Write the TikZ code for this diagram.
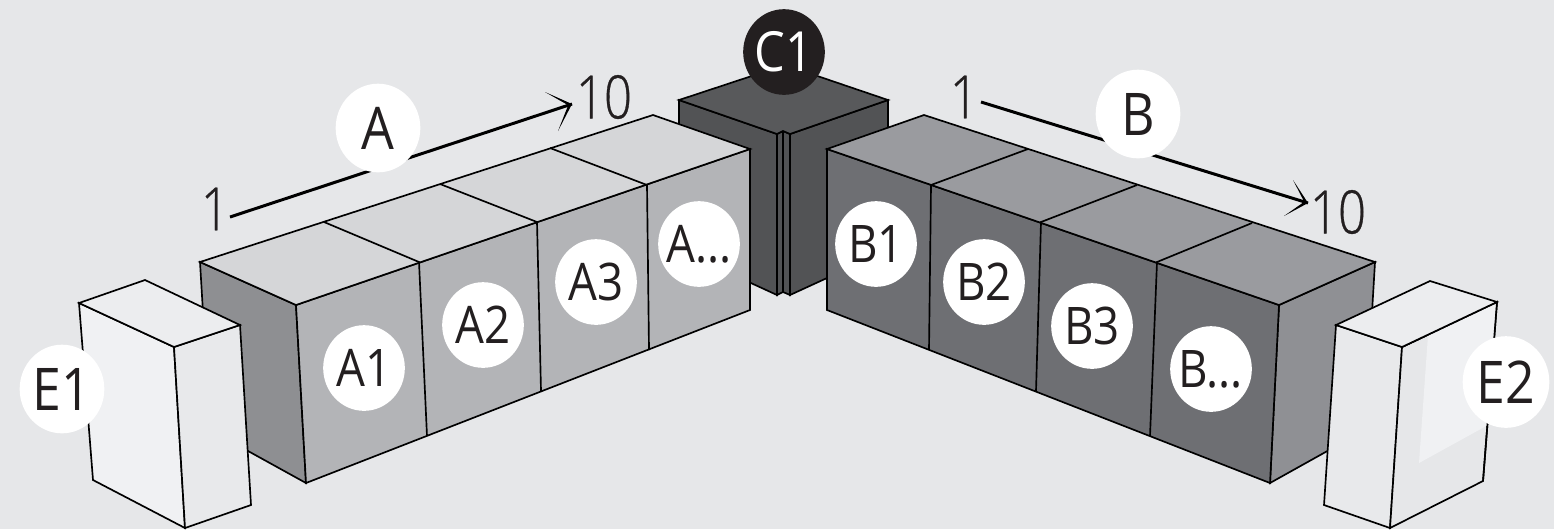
\documentclass[tikz,border=0pt]{standalone}
\usepackage{fontspec}
\setmainfont[FakeStretch=0.88]{Open Sans}
\newfontfamily\thinfont[FakeStretch=0.82,FakeBold=0.5]{Open Sans Light}
\usetikzlibrary{shapes.geometric}
\definecolor{bgc}{HTML}{E6E7E9}
\definecolor{inkc}{HTML}{231F20}
\definecolor{atop}{HTML}{D5D6D8}
\definecolor{afront}{HTML}{B3B4B7}
\definecolor{aside}{HTML}{8E8F92}
\definecolor{btop}{HTML}{9A9B9F}
\definecolor{bfront}{HTML}{6E6F73}
\definecolor{bside}{HTML}{8F9094}
\definecolor{ctop}{HTML}{58595B}
\definecolor{cface}{HTML}{525355}
\definecolor{etop}{HTML}{ECEDEF}
\definecolor{elight}{HTML}{F0F1F3}
\definecolor{emid}{HTML}{E8E9EB}
\newlength{\unitx}\setlength{\unitx}{0.5669pt}
\tikzset{
  face/.style={draw=black,line width=0.95pt,line join=miter},
  seam/.style={draw=black,line width=0.95pt},
  tag/.style={ellipse,fill=white,inner sep=-25pt,minimum width=82\unitx,minimum height=86\unitx,text=inkc,font=\fontsize{29.5}{30}\selectfont},
  bigtag/.style={tag,minimum width=85\unitx,minimum height=89\unitx,font=\fontsize{33.5}{34}\selectfont},
  darktag/.style={tag,fill=inkc,text=white,font=\fontsize{31.5}{32}\selectfont},
  endnum/.style={inner sep=0pt,text=inkc,font=\thinfont\fontsize{34}{36}\selectfont},
  arrowline/.style={draw=black,line width=1.7pt},
  barb/.style={fill=black,draw=none}
}
\begin{document}
\begin{tikzpicture}[x=0.02cm,y=-0.02cm]
\fill[bgc] (0,0) rectangle (1554,529);
\useasboundingbox (0,0) rectangle (1554,529);
% C block
\filldraw[face,fill=cface] (679,100) -- (777,134) -- (777,295) -- (679,250) -- cycle;
\filldraw[face,fill=cface] (888,100) -- (790,134) -- (790,295) -- (888,250) -- cycle;
\filldraw[face,fill=cface] (777,134) -- (783,131) -- (790,134) -- (790,295) -- (783,292) -- (777,295) -- cycle;
\draw[seam] (783,131) -- (783,292);
\filldraw[face,fill=ctop] (679,100) -- (785,65) -- (888,100) -- (790,134) -- (783,131) -- (777,134) -- cycle;
% A block
\filldraw[face,fill=aside] (200,262) -- (296,305) -- (306,483) -- (210,430) -- cycle;
\filldraw[face,fill=afront] (296,305) -- (750,149) -- (750,310) -- (306,483) -- cycle;
\filldraw[face,fill=atop] (200,262) -- (653,115) -- (750,149) -- (296,305) -- cycle;
\draw[seam] (324,222) -- (419,262) -- (427,436);
\draw[seam] (440,184) -- (537,222) -- (541,391);
\draw[seam] (550,148) -- (647,185) -- (649,350);
% B block
\filldraw[face,fill=bside] (1375,262) -- (1279,305) -- (1270,483) -- (1365,430) -- cycle;
\filldraw[face,fill=bfront] (827,149) -- (1279,305) -- (1270,483) -- (827,310) -- cycle;
\filldraw[face,fill=btop] (827,149) -- (924,115) -- (1375,262) -- (1279,305) -- cycle;
\draw[seam] (1028,149) -- (931,185) -- (929,350);
\draw[seam] (1137,185) -- (1041,222) -- (1036,391);
\draw[seam] (1252,223) -- (1157,262) -- (1150,436);
% E1
\filldraw[face,fill=elight] (79,303) -- (174,347) -- (185,528) -- (93,480) -- cycle;
\filldraw[face,fill=emid] (174,347) -- (240,325) -- (251,505) -- (185,528) -- cycle;
\filldraw[face,fill=etop] (79,303) -- (145,280) -- (240,325) -- (174,347) -- cycle;
% E2
\filldraw[face,fill=emid!95!bgc] (1336,325) -- (1402,347) -- (1390,528) -- (1324,505) -- cycle;
\filldraw[face,fill=bgc] (1402,347) -- (1497,302) -- (1483,481) -- (1390,528) -- cycle;
\fill[elight] (1428,335) -- (1496,303) -- (1488,425) -- (1419,463) -- cycle;
\draw[seam] (1402,347) -- (1497,302) -- (1483,481);
\filldraw[face,fill=etop] (1336,325) -- (1430,281) -- (1497,302) -- (1402,347) -- cycle;
% arrows
\coordinate (as) at (230,217);
\coordinate (ae) at (572,104);
\coordinate (bs) at (981,102);
\coordinate (be) at (1308,203);
\draw[arrowline] (as) -- (ae);
\fill[barb] (545,92) -- (ae) -- (558,131) -- (568.2,105.2) -- cycle;
\draw[arrowline] (bs) -- (be);
\fill[barb] (1293,180) -- (be) -- (1284,216) -- (1304.2,201.8) -- cycle;
% numbers
\node[endnum] (n1a) at (215,209) {1};
\node[endnum] (n10a) at (604,97) {10};
\node[endnum] (n1b) at (964,97) {1};
\node[endnum] (n10b) at (1338,212) {10};
% tags
\node[darktag] (c1) at (784,52) {C1};
\node[bigtag] (a) at (378,128) {A};
\node[bigtag] (b) at (1138,114) {B};
\node[tag] (a1) at (364,368) {A1};
\node[tag] (a2) at (483,325) {A2};
\node[tag] (a3) at (596,282) {A3};
\node[tag] (an) at (699,244) {A...};
\node[tag] (b1) at (876,244) {B1};
\node[tag] (b2) at (984,282) {B2};
\node[tag] (b3) at (1092,326) {B3};
\node[tag] (bn) at (1211,369) {B...};
\node[bigtag] (e1) at (62,389) {E1};
\node[bigtag,minimum width=87\unitx,minimum height=92\unitx] (e2) at (1506,382) {E2};
\end{tikzpicture}
\end{document}
